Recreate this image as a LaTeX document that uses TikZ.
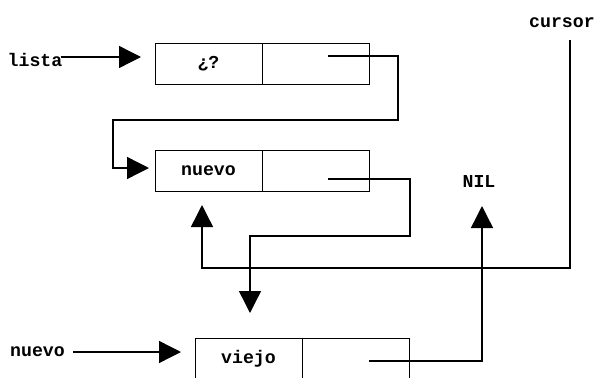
\documentclass[tikz,border=0pt]{standalone}
\usepackage{fontspec}
\setmonofont{Liberation Mono}
\usetikzlibrary{arrows.meta,calc}
\begin{document}
\begin{tikzpicture}[x=1pt,y=-1pt,
  every node/.style={font=\ttfamily\bfseries\fontsize{18.2}{20}\selectfont},
  cell/.style={draw,line width=1pt,minimum width=107pt,minimum height=41pt,inner sep=0pt},
  lbl/.style={anchor=base,inner sep=0pt},
  link/.style={line width=1.4pt,line join=miter},
  ptr/.style={link,-{Triangle[length=22pt,width=22pt]}}]
\useasboundingbox (0,0) rectangle (598,378);
\clip (0,0) rectangle (598,378);
% list cells
\node[cell] (b1l) at (208.5,63.5) {¿?};
\node[cell] (b1r) at (315.5,63.5) {};
\node[cell] (b2l) at (208.5,170.5) {nuevo};
\node[cell] (b2r) at (315.5,170.5) {};
\node[cell] (b3l) at (248.5,358.5) {viejo};
\node[cell] (b3r) at (355.5,358.5) {};
% labels
\node[lbl] (lista) at (35,66) {lista};
\node[lbl] (nuevo) at (37.5,356) {nuevo};
\node[lbl] (cursor) at (562,27) {cursor};
\node[lbl] (nil) at (479,187) {NIL};
% pointer starts and tips
\coordinate (s1) at (328,56);
\coordinate (s2) at (328,179);
\coordinate (s3) at (369,361);
\coordinate (t1) at (141,57);
\coordinate (t2) at (149,168);
\coordinate (t3) at (250,313);
\coordinate (t4) at (202,205);
\coordinate (t5) at (482,206);
\coordinate (t6) at (181,352);
\coordinate (c0) at (570,40);
% lista -> first cell
\draw[ptr] (lista.base east) ++(-2,-9) coordinate (l0) -- (t1);
% first cell -> second cell
\draw[ptr] (s1) -- (398,56) -- (398,120) -- (113,120) -- (113,168) -- (t2);
% second cell -> third cell
\draw[ptr] (s2) -- (410,179) -- (410,236) -- (250,236) -- (t3);
% cursor -> second cell
\draw[ptr] (c0) -- (570,268) -- (202,268) -- (t4);
% third cell -> NIL
\draw[ptr] (s3) -- (482,361) -- (t5);
% nuevo -> third cell
\draw[ptr] (73,352) -- (t6);
\end{tikzpicture}
\end{document}
